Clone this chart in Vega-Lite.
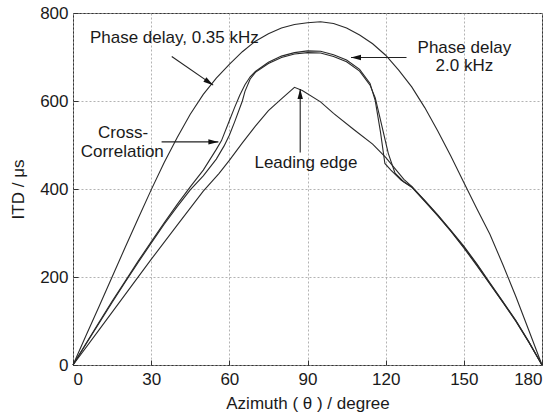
{
  "$schema": "https://vega.github.io/schema/vega-lite/v6.json",
  "width": 469,
  "height": 352,
  "autosize": {"type": "none"},
  "padding": {"left": 73, "top": 13, "right": 16, "bottom": 54},
  "background": "white",
  "datasets": {
    "curves": [
      {"s": "pd035", "x": 0, "y": 0}, {"s": "pd035", "x": 5, "y": 67}, {"s": "pd035", "x": 10, "y": 133}, {"s": "pd035", "x": 15, "y": 200}, {"s": "pd035", "x": 20, "y": 267}, {"s": "pd035", "x": 25, "y": 333}, {"s": "pd035", "x": 30, "y": 398}, {"s": "pd035", "x": 35, "y": 460}, {"s": "pd035", "x": 40, "y": 517}, {"s": "pd035", "x": 45, "y": 570}, {"s": "pd035", "x": 50, "y": 615}, {"s": "pd035", "x": 55, "y": 652}, {"s": "pd035", "x": 60, "y": 683}, {"s": "pd035", "x": 65, "y": 712}, {"s": "pd035", "x": 70, "y": 736}, {"s": "pd035", "x": 75, "y": 753}, {"s": "pd035", "x": 80, "y": 766}, {"s": "pd035", "x": 85, "y": 774}, {"s": "pd035", "x": 90, "y": 778}, {"s": "pd035", "x": 95, "y": 780}, {"s": "pd035", "x": 100, "y": 776}, {"s": "pd035", "x": 105, "y": 766}, {"s": "pd035", "x": 110, "y": 750}, {"s": "pd035", "x": 115, "y": 730}, {"s": "pd035", "x": 120, "y": 704}, {"s": "pd035", "x": 125, "y": 670}, {"s": "pd035", "x": 130, "y": 632}, {"s": "pd035", "x": 135, "y": 585}, {"s": "pd035", "x": 140, "y": 532}, {"s": "pd035", "x": 145, "y": 475}, {"s": "pd035", "x": 150, "y": 415}, {"s": "pd035", "x": 155, "y": 355}, {"s": "pd035", "x": 160, "y": 297}, {"s": "pd035", "x": 165, "y": 228}, {"s": "pd035", "x": 170, "y": 155}, {"s": "pd035", "x": 175, "y": 78}, {"s": "pd035", "x": 180, "y": 0},

      {"s": "cc", "x": 0, "y": 0}, {"s": "cc", "x": 5, "y": 49}, {"s": "cc", "x": 10, "y": 97}, {"s": "cc", "x": 15, "y": 145}, {"s": "cc", "x": 20, "y": 190}, {"s": "cc", "x": 25, "y": 236}, {"s": "cc", "x": 30, "y": 280}, {"s": "cc", "x": 35, "y": 323}, {"s": "cc", "x": 40, "y": 365}, {"s": "cc", "x": 45, "y": 405}, {"s": "cc", "x": 50, "y": 443}, {"s": "cc", "x": 55, "y": 490}, {"s": "cc", "x": 57, "y": 510}, {"s": "cc", "x": 60, "y": 555}, {"s": "cc", "x": 62, "y": 585}, {"s": "cc", "x": 64, "y": 613}, {"s": "cc", "x": 66, "y": 637}, {"s": "cc", "x": 68, "y": 655}, {"s": "cc", "x": 70, "y": 667}, {"s": "cc", "x": 75, "y": 688}, {"s": "cc", "x": 80, "y": 702}, {"s": "cc", "x": 85, "y": 710}, {"s": "cc", "x": 90, "y": 714}, {"s": "cc", "x": 95, "y": 713}, {"s": "cc", "x": 100, "y": 705}, {"s": "cc", "x": 105, "y": 693}, {"s": "cc", "x": 110, "y": 672}, {"s": "cc", "x": 114, "y": 640}, {"s": "cc", "x": 116, "y": 601}, {"s": "cc", "x": 118, "y": 530}, {"s": "cc", "x": 119.7, "y": 458}, {"s": "cc", "x": 122, "y": 443}, {"s": "cc", "x": 126, "y": 420}, {"s": "cc", "x": 130, "y": 405}, {"s": "cc", "x": 135, "y": 374}, {"s": "cc", "x": 140, "y": 341}, {"s": "cc", "x": 145, "y": 306}, {"s": "cc", "x": 150, "y": 270}, {"s": "cc", "x": 155, "y": 230}, {"s": "cc", "x": 160, "y": 187}, {"s": "cc", "x": 165, "y": 144}, {"s": "cc", "x": 170, "y": 101}, {"s": "cc", "x": 175, "y": 52}, {"s": "cc", "x": 180, "y": 0},

      {"s": "pd2", "x": 0, "y": 0}, {"s": "pd2", "x": 5, "y": 48}, {"s": "pd2", "x": 10, "y": 95}, {"s": "pd2", "x": 15, "y": 142}, {"s": "pd2", "x": 20, "y": 188}, {"s": "pd2", "x": 25, "y": 233}, {"s": "pd2", "x": 30, "y": 277}, {"s": "pd2", "x": 35, "y": 320}, {"s": "pd2", "x": 40, "y": 360}, {"s": "pd2", "x": 45, "y": 398}, {"s": "pd2", "x": 50, "y": 430}, {"s": "pd2", "x": 55, "y": 468}, {"s": "pd2", "x": 58, "y": 498}, {"s": "pd2", "x": 60, "y": 522}, {"s": "pd2", "x": 62, "y": 552}, {"s": "pd2", "x": 65, "y": 600}, {"s": "pd2", "x": 66, "y": 622}, {"s": "pd2", "x": 68, "y": 650}, {"s": "pd2", "x": 70, "y": 665}, {"s": "pd2", "x": 75, "y": 685}, {"s": "pd2", "x": 80, "y": 699}, {"s": "pd2", "x": 85, "y": 707}, {"s": "pd2", "x": 90, "y": 710}, {"s": "pd2", "x": 95, "y": 709}, {"s": "pd2", "x": 100, "y": 701}, {"s": "pd2", "x": 105, "y": 689}, {"s": "pd2", "x": 110, "y": 668}, {"s": "pd2", "x": 114, "y": 636}, {"s": "pd2", "x": 116, "y": 607}, {"s": "pd2", "x": 118, "y": 557}, {"s": "pd2", "x": 121, "y": 481}, {"s": "pd2", "x": 123.6, "y": 436}, {"s": "pd2", "x": 127, "y": 416}, {"s": "pd2", "x": 130, "y": 404}, {"s": "pd2", "x": 135, "y": 372}, {"s": "pd2", "x": 140, "y": 339}, {"s": "pd2", "x": 145, "y": 304}, {"s": "pd2", "x": 150, "y": 266}, {"s": "pd2", "x": 155, "y": 226}, {"s": "pd2", "x": 160, "y": 184}, {"s": "pd2", "x": 165, "y": 142}, {"s": "pd2", "x": 170, "y": 99}, {"s": "pd2", "x": 175, "y": 51}, {"s": "pd2", "x": 180, "y": 0},

      {"s": "le", "x": 0, "y": 0}, {"s": "le", "x": 10, "y": 80}, {"s": "le", "x": 20, "y": 160}, {"s": "le", "x": 30, "y": 240}, {"s": "le", "x": 40, "y": 318}, {"s": "le", "x": 50, "y": 395}, {"s": "le", "x": 56, "y": 435}, {"s": "le", "x": 60, "y": 465}, {"s": "le", "x": 65, "y": 505}, {"s": "le", "x": 70, "y": 543}, {"s": "le", "x": 75, "y": 578}, {"s": "le", "x": 80, "y": 605}, {"s": "le", "x": 85, "y": 631}, {"s": "le", "x": 88, "y": 624}, {"s": "le", "x": 95, "y": 598}, {"s": "le", "x": 100, "y": 572}, {"s": "le", "x": 108, "y": 534}, {"s": "le", "x": 115, "y": 502}, {"s": "le", "x": 120, "y": 472}, {"s": "le", "x": 127, "y": 422}, {"s": "le", "x": 130, "y": 406}, {"s": "le", "x": 135, "y": 373}, {"s": "le", "x": 140, "y": 340}, {"s": "le", "x": 145, "y": 305}, {"s": "le", "x": 150, "y": 268}, {"s": "le", "x": 155, "y": 228}, {"s": "le", "x": 160, "y": 185}, {"s": "le", "x": 165, "y": 143}, {"s": "le", "x": 170, "y": 100}, {"s": "le", "x": 175, "y": 52}, {"s": "le", "x": 180, "y": 0}
    ],
    "arrows": [
      {"x": 37.9, "y": 701, "x2": 53.8, "y2": 636},
      {"x": 34.0, "y": 507, "x2": 55.8, "y2": 507},
      {"x": 87.2, "y": 483, "x2": 87.2, "y2": 627},
      {"x": 128.0, "y": 699, "x2": 106.7, "y2": 699}
    ],
    "heads": [
      {"x": 53.8, "y": 636, "a": 34},
      {"x": 55.8, "y": 507, "a": 0},
      {"x": 87.2, "y": 627, "a": 270},
      {"x": 106.7, "y": 699, "a": 180}
    ],
    "labels": [
      {"t": "Phase delay, 0.35 kHz", "x": 38.9, "y": 731},
      {"t": "Cross-", "x": 19.2, "y": 515},
      {"t": "Correlation", "x": 18.9, "y": 473},
      {"t": "Leading edge", "x": 89.4, "y": 447},
      {"t": "Phase delay", "x": 150.2, "y": 710},
      {"t": "2.0 kHz", "x": 150.2, "y": 668}
    ]
  },
  "layer": [
    {
      "data": {"name": "curves"},
      "mark": {"type": "line", "color": "#2a2a2a", "strokeWidth": 1.1},
      "encoding": {
        "x": {"field": "x", "type": "quantitative", "scale": {"domain": [0, 180], "nice": false},
              "axis": {"title": "Azimuth ( θ ) / degree", "values": [0, 30, 60, 90, 120, 150, 180], "labelPadding": 11, "titlePadding": 8}},
        "y": {"field": "y", "type": "quantitative", "scale": {"domain": [0, 800], "nice": false},
              "axis": {"title": "ITD / μs", "values": [0, 200, 400, 600, 800], "labelPadding": 10, "titlePadding": 12}},
        "detail": {"field": "s", "type": "nominal"}
      }
    },
    {
      "data": {"name": "arrows"},
      "mark": {"type": "rule", "color": "#222", "strokeWidth": 1.1},
      "encoding": {
        "x": {"field": "x", "type": "quantitative"},
        "y": {"field": "y", "type": "quantitative"},
        "x2": {"field": "x2"},
        "y2": {"field": "y2"}
      }
    },
    {
      "data": {"name": "heads"},
      "mark": {"type": "point", "shape": "M0,0L-1,-0.27L-1,0.27Z", "filled": true, "color": "#111", "size": 400, "opacity": 1, "strokeWidth": 0},
      "encoding": {
        "x": {"field": "x", "type": "quantitative"},
        "y": {"field": "y", "type": "quantitative"},
        "angle": {"field": "a", "type": "quantitative", "scale": null}
      }
    },
    {
      "data": {"name": "labels"},
      "mark": {"type": "text", "font": "Liberation Sans", "fontSize": 17, "color": "#1a1a1a", "align": "center", "baseline": "alphabetic"},
      "encoding": {
        "x": {"field": "x", "type": "quantitative"},
        "y": {"field": "y", "type": "quantitative"},
        "text": {"field": "t", "type": "nominal"}
      }
    }
  ],
  "config": {
    "view": {"stroke": "#333", "strokeWidth": 1},
    "axis": {
      "grid": true, "gridColor": "#a0a0a0", "gridDash": [2, 2], "gridWidth": 0.8,
      "domain": false, "ticks": true, "tickSize": -5, "tickColor": "#333",
      "labelFont": "Liberation Sans", "labelFontSize": 17, "labelColor": "#1a1a1a",
      "titleFont": "Liberation Sans", "titleFontSize": 17, "titleFontWeight": "normal", "titleColor": "#1a1a1a"
    }
  }
}
